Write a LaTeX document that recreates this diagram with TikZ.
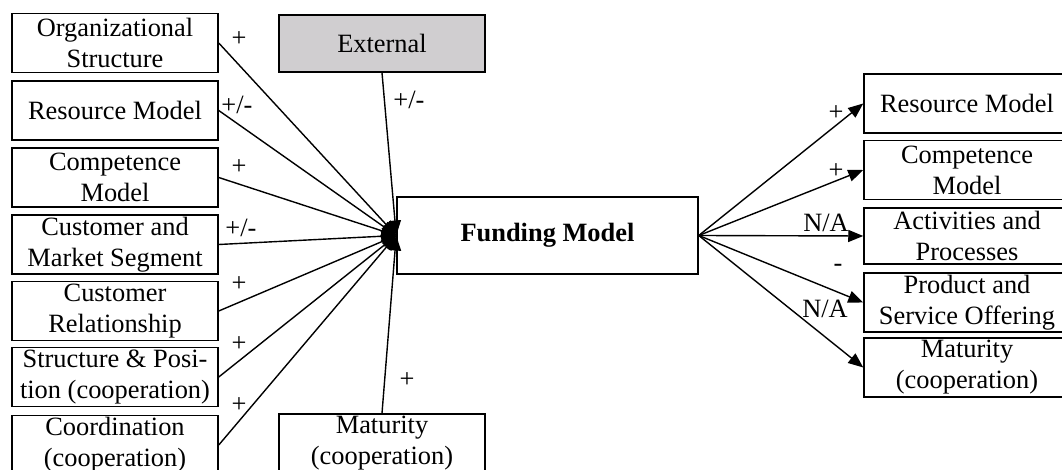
\documentclass[tikz,border=0pt]{standalone}
\usepackage{fontspec}
\setmainfont{Liberation Serif}
\usetikzlibrary{arrows.meta}
\definecolor{extgray}{RGB}{208,206,208}
\tikzset{
  box/.style={draw, line width=0.75pt, fill=white, minimum width=103pt,
    minimum height=29.5pt, inner sep=0pt, align=center,
    font=\fontsize{13.2}{15.5}\selectfont},
  link/.style={line width=0.7pt},
  arrow/.style={link, -{Triangle[length=7.5pt,width=6pt]}},
  sign/.style={anchor=base, inner sep=0pt, font=\fontsize{13.2}{15.5}\selectfont},
}
\begin{document}
\begin{tikzpicture}[x=0.5pt,y=-0.5pt]
\clip (0,0) rectangle (1062,470);

% influencing factors (left column)
\node[box] (org)  at (115,43)    {Organizational\\Structure};
\node[box] (res)  at (115,110.5) {Resource Model};
\node[box] (comp) at (115,177.5) {Competence\\Model};
\node[box] (cust) at (115,244.5) {Customer and\\Market Segment};
\node[box] (rel)  at (115,311)   {Customer\\Relationship};
\node[box] (str)  at (115,377)   {Structure \& Posi-\\tion (cooperation)};
\node[box] (coor) at (115,445)   {Coordination\\(cooperation)};

% further inputs above and below
\node[box, fill=extgray, minimum height=28.5pt] (ext) at (382,43.5) {External};
\node[box] (mat) at (382,443.5) {Maturity\\(cooperation)};

% central element
\node[box, minimum width=150.5pt, minimum height=38.5pt,
      font=\fontsize{13.2}{15.5}\selectfont\bfseries] (fm) at (547.5,235.5) {Funding Model};

% affected elements (right column)
\node[box] (rres)  at (967,103.5) {Resource Model};
\node[box] (rcomp) at (967,170)   {Competence\\Model};
\node[box, minimum height=28pt] (ract)  at (967,236)   {Activities and\\Processes};
\node[box] (rprod) at (967,302.5) {Product and\\Service Offering};
\node[box] (rmat)  at (967,367.5) {Maturity\\(cooperation)};

% incoming influences
\foreach \s in {org,res,comp,cust,rel,str,coor}
  \draw[arrow] (\s.east) -- (fm.west);
\draw[arrow] (ext.south) -- (fm.west);
\draw[arrow] (mat.north) -- (fm.west);

% outgoing effects
\foreach \t in {rres,rcomp,ract,rprod,rmat}
  \draw[arrow] (fm.east) -- (\t.west);

% signs of the influences
\node[sign] (s1) at (239,47)  {+};
\node[sign] (s2) at (237,114) {+/-};
\node[sign] (s3) at (239,175) {+};
\node[sign] (s4) at (241,237) {+/-};
\node[sign] (s5) at (239,292) {+};
\node[sign] (s6) at (239,352) {+};
\node[sign] (s7) at (239,413) {+};
\node[sign] (se) at (409,109) {+/-};
\node[sign] (sm) at (407,388) {+};

% signs of the effects
\node[sign] (r1) at (836,121) {+};
\node[sign] (r2) at (836,179) {+};
\node[sign] (r3) at (826,232) {N/A};
\node[sign] (r4) at (838,272) {-};
\node[sign] (r5) at (825,318) {N/A};
\end{tikzpicture}
\end{document}
